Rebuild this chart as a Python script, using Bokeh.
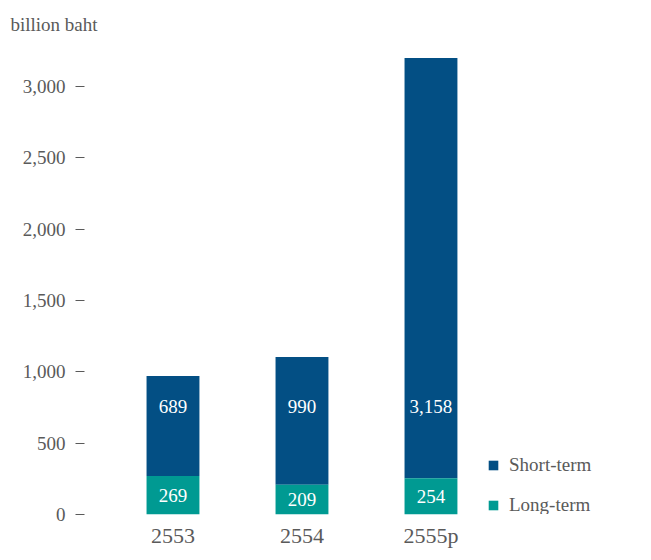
from bokeh.plotting import figure
from bokeh.models import (ColumnDataSource, Range1d, FixedTicker, NumeralTickFormatter,
                          Legend, LegendItem, Title)
from bokeh.embed import file_html
from bokeh.resources import INLINE
from bokeh.core.properties import value

# ---- data ----
years = ["2553", "2554", "2555p"]
long_term = [269, 209, 254]          # labelled values
short_term = [689, 990, 3158]        # labelled values
bar_top = [970, 1104, 3200]          # drawn heights of the stacked bars
y_ticks = [0, 500, 1000, 1500, 2000, 2500, 3000]

FONT = "Liberation Serif"
GRAY = "#5a5a5a"
C_SHORT = "#034f84"
C_LONG = "#009a92"

xs = list(range(len(years)))
src = ColumnDataSource(dict(
    x=xs,
    long_top=long_term,
    top=bar_top,
    long_lab=[f"{v:,}" for v in long_term],
    short_lab=[f"{v:,}" for v in short_term],
    long_mid=[v / 2 for v in long_term],
    short_y=[754] * len(years),
))

p = figure(width=651, height=560, output_backend="svg", toolbar_location=None,
           x_range=Range1d(-0.686, 3.632), y_range=Range1d(0, 3287),
           min_border_left=84, min_border_right=10, min_border_bottom=46, min_border_top=45)
p.outline_line_color = None
p.grid.grid_line_color = None
p.background_fill_color = "white"
p.border_fill_color = "white"

W = 0.41
r_short = p.vbar(x="x", bottom="long_top", top="top", width=W, source=src,
                 fill_color=C_SHORT, line_color=None)
r_long = p.vbar(x="x", bottom=0, top="long_top", width=W, source=src,
                fill_color=C_LONG, line_color=None)

p.text(x="x", y="short_y", text="short_lab", source=src, text_color="white",
       text_font=value(FONT), text_font_size="19px", text_align="center", text_baseline="middle")
p.text(x="x", y="long_mid", text="long_lab", source=src, text_color="white",
       text_font=value(FONT), text_font_size="19px", text_align="center", text_baseline="middle")

# y axis
ya = p.yaxis[0]
ya.ticker = FixedTicker(ticks=y_ticks)
ya.formatter = NumeralTickFormatter(format="0,0")
ya.axis_line_color = None
ya.major_tick_in = 0
ya.major_tick_out = 9
ya.major_tick_line_color = GRAY
ya.minor_tick_line_color = None
ya.major_label_standoff = 10
ya.major_label_text_font = FONT
ya.major_label_text_font_size = "19px"
ya.major_label_text_color = GRAY

# x axis
xa = p.xaxis[0]
xa.ticker = FixedTicker(ticks=xs)
xa.major_label_overrides = {i: y for i, y in enumerate(years)}
xa.axis_line_color = None
xa.major_tick_line_color = None
xa.minor_tick_line_color = None
xa.major_label_standoff = 2
xa.major_label_text_font = FONT
xa.major_label_text_font_size = "22px"
xa.major_label_text_color = GRAY

# title
p.title = Title(text="billion baht", align="left", offset=-74, standoff=22,
                text_font=FONT, text_font_size="19px", text_font_style="normal",
                text_color=GRAY)

legend = Legend(items=[LegendItem(label="Short-term", renderers=[r_short]),
                       LegendItem(label="Long-term", renderers=[r_long])],
                location=(403, -2), padding=0, margin=0, spacing=18,
                glyph_width=12, glyph_height=12, label_height=20, label_standoff=10,
                label_text_font=FONT, label_text_font_size="19px", label_text_color=GRAY,
                border_line_color=None, background_fill_alpha=0)
p.add_layout(legend)

open("out.html", "w").write(file_html(p, INLINE))
